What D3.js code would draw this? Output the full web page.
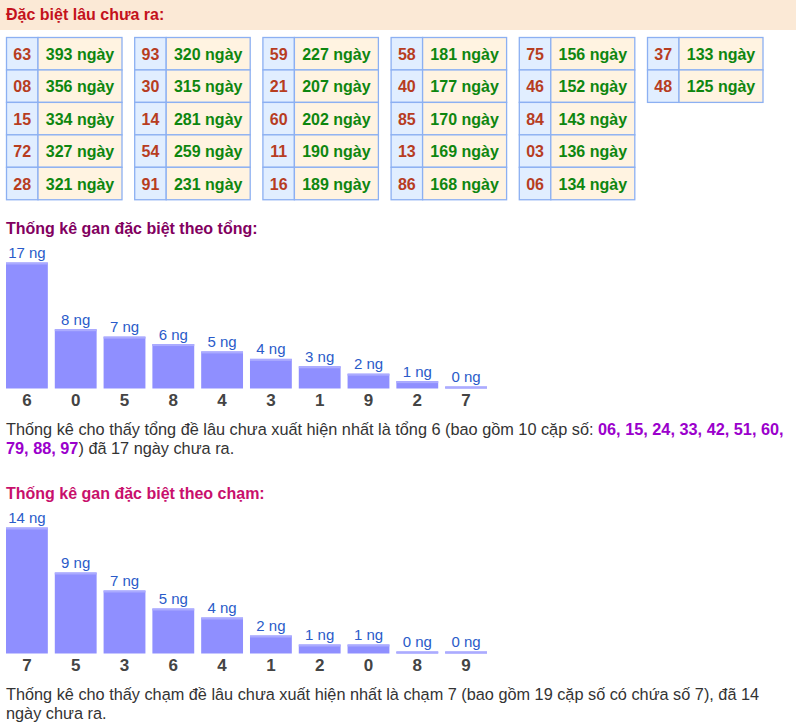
<!DOCTYPE html>
<html>
<head>
<meta charset="utf-8">
<script src="https://cdn.jsdelivr.net/npm/d3@7"></script>
<style>
  html, body { margin: 0; padding: 0; background: #fff; }
  svg { display: block; font-family: Arial, "Liberation Sans", sans-serif; }
</style>
</head>
<body>
<svg id="chart" width="796" height="727"></svg>
<script>
// ---- Data ----
const ganNumbers = ["63","08","15","72","28","93","30","14","54","91","59","21","60","11","16","58","40","85","13","86","75","46","84","03","06","37","48"];
const ganDays = [393,356,334,327,321,320,315,281,259,231,227,207,202,190,189,181,177,170,169,168,156,152,143,136,134,133,125];

const tongCategories = ["6","0","5","8","4","3","1","9","2","7"];
const tongValues = [17,8,7,6,5,4,3,2,1,0];

const chamCategories = ["7","5","3","6","4","1","2","0","8","9"];
const chamValues = [14,9,7,5,4,2,1,1,0,0];

const tongPairs = ["06","15","24","33","42","51","60","79","88","97"];

// ---- Drawing ----
const svg = d3.select("#chart");

// header band
svg.append("rect").attr("x",0).attr("y",0).attr("width",796).attr("height",30).attr("fill","#fbe9d6");
svg.append("text").attr("x",6).attr("y",20).attr("font-size",16).attr("font-weight","bold")
  .attr("fill","#c4121c").text("Đặc biệt lâu chưa ra:");

// tables
const rowsPerTable = 5, rowH = 32.45, tW = 115.5, numW = 31.5;
const tableX = i => 6 + i * 128.2;
const tTop = 37;
const cells = svg.append("g");
ganNumbers.forEach((n, i) => {
  const t = Math.floor(i / rowsPerTable), r = i % rowsPerTable;
  const x0 = tableX(t), y0 = tTop + r * rowH;
  cells.append("rect").attr("x",x0+0.5).attr("y",y0+0.5).attr("width",numW).attr("height",rowH)
    .attr("fill","#e1eeff").attr("stroke","#8cb0f2").attr("stroke-width",1.3);
  cells.append("rect").attr("x",x0+numW+0.5).attr("y",y0+0.5).attr("width",tW-numW).attr("height",rowH)
    .attr("fill","#fff3e1").attr("stroke","#8cb0f2").attr("stroke-width",1.3);
  cells.append("text").attr("x",x0+numW/2+0.5).attr("y",y0+rowH/2+6.5).attr("text-anchor","middle")
    .attr("font-size",16).attr("font-weight","bold").attr("fill","#b73d1f").text(n);
  cells.append("text").attr("x",x0+numW+(tW-numW)/2+0.5).attr("y",y0+rowH/2+6.5).attr("text-anchor","middle")
    .attr("font-size",16).attr("font-weight","bold").attr("fill","#0e860f").text(ganDays[i] + " ngày");
});

function barChart(cats, vals, titleText, titleColor, titleY, baseY) {
  svg.append("text").attr("x",6).attr("y",titleY).attr("font-size",16).attr("font-weight","bold")
    .attr("fill",titleColor).text(titleText);
  const x = d3.scaleBand().domain(cats).range([6, 487]).paddingInner(1/7).paddingOuter(0);
  const y = d3.scaleLinear().domain([0, d3.max(vals)]).range([baseY, baseY - 126]);
  const g = svg.append("g");
  const data = cats.map((c, i) => ({c, v: vals[i]}));
  g.selectAll("rect.bar").data(data).join("rect").attr("class","bar")
    .attr("x", d => x(d.c)).attr("width", x.bandwidth())
    .attr("y", d => Math.min(y(d.v), baseY - 2)).attr("height", d => Math.max(baseY - y(d.v), 2))
    .attr("fill", "#8f8fff");
  g.selectAll("rect.hl").data(data).join("rect").attr("class","hl")
    .attr("x", d => x(d.c)).attr("width", x.bandwidth())
    .attr("y", d => Math.min(y(d.v), baseY - 2)).attr("height", 2)
    .attr("fill", "#ababff");
  g.selectAll("text.val").data(data).join("text").attr("class","val")
    .attr("x", d => x(d.c) + x.bandwidth()/2).attr("y", d => Math.min(y(d.v), baseY - 2) - 4.5)
    .attr("text-anchor","middle").attr("font-size",15).attr("fill","#2a5bc9")
    .text(d => d.v + " ng");
  const axis = d3.axisBottom(x).tickSize(0).tickPadding(0);
  const ag = g.append("g").attr("transform", `translate(0,${baseY})`).call(axis);
  ag.select(".domain").remove();
  ag.selectAll("text").attr("dy", null).attr("y", 17).attr("font-size",17).attr("font-weight","bold")
    .attr("fill","#444").attr("font-family","Arial, 'Liberation Sans', sans-serif");
}

barChart(tongCategories, tongValues, "Thống kê gan đặc biệt theo tổng:", "#82005f", 234, 388.5);
barChart(chamCategories, chamValues, "Thống kê gan đặc biệt theo chạm:", "#c8106c", 499, 653.5);

// paragraph 1
const pSize = 16.3;
const p1 = svg.append("text").attr("x",6).attr("y",435).attr("font-size",pSize).attr("fill","#333");
p1.append("tspan").text("Thống kê cho thấy tổng đề lâu chưa xuất hiện nhất là tổng 6 (bao gồm 10 cặp số: ");
p1.append("tspan").attr("font-weight","bold").attr("fill","#9b00cc").text(tongPairs.slice(0,7).join(", ") + ",");
const p1b = svg.append("text").attr("x",6).attr("y",454).attr("font-size",pSize).attr("fill","#333");
p1b.append("tspan").attr("font-weight","bold").attr("fill","#9b00cc").text(tongPairs.slice(7).join(", "));
p1b.append("tspan").text(") đã 17 ngày chưa ra.");

// paragraph 2
svg.append("text").attr("x",6).attr("y",700).attr("font-size",pSize).attr("fill","#333")
  .text("Thống kê cho thấy chạm đề lâu chưa xuất hiện nhất là chạm 7 (bao gồm 19 cặp số có chứa số 7), đã 14");
svg.append("text").attr("x",6).attr("y",719).attr("font-size",pSize).attr("fill","#333")
  .text("ngày chưa ra.");
</script>
</body>
</html>
